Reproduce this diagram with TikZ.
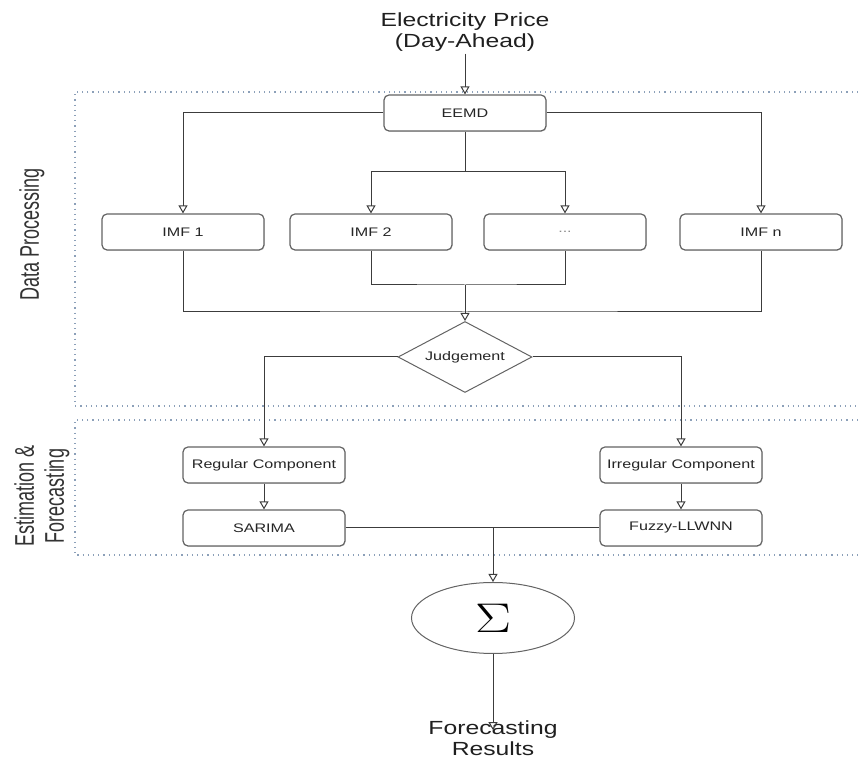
\documentclass[tikz,border=0pt]{standalone}
\usepackage{amsmath}
\usepackage{fontspec}
\setmainfont{Liberation Sans}
\newfontfamily\wide[FakeStretch=1.3]{Liberation Sans}
\usepackage{tikz}
\usetikzlibrary{arrows.meta,shapes.geometric,shadows}

\definecolor{edgegray}{RGB}{60,60,60}
\definecolor{regionblue}{RGB}{140,160,185}

\tikzset{
  block/.style={draw=edgegray!80, rounded corners=2.5pt, line width=0.6pt,
    minimum width=81pt, minimum height=18pt, inner sep=1pt,
    fill=white, font=\wide\fontsize{6.2}{8}\selectfont, text=black!85,
    drop shadow={opacity=0.2, shadow xshift=0.4pt, shadow yshift=-0.4pt}},
  decide/.style={draw=edgegray!80, diamond, aspect=1.9, inner sep=0pt,
    minimum width=67pt, minimum height=35.5pt, line width=0.5pt,
    font=\wide\fontsize{6.2}{8}\selectfont, text=black!85},
  sumnode/.style={draw=edgegray!80, ellipse, minimum width=81.5pt,
    minimum height=35.5pt, line width=0.5pt, inner sep=0pt},
  bigtext/.style={align=center, font=\wide\fontsize{9.5}{10.5}\selectfont, text=black!88},
  sidetext/.style={align=center, rotate=90, font=\fontsize{9}{15}\selectfont, text=black!80},
  region/.style={draw=regionblue, dotted, line width=0.6pt},
  link/.style={draw=edgegray, line width=0.5pt},
  arr/.style={link, -{Triangle[open,length=4pt,width=4.5pt]}}
}

\begin{document}
\begin{tikzpicture}[x=0.5pt, y=-0.5pt]
  \useasboundingbox (0,0) rectangle (858,758);

  % regions
  \draw[region] (858,92) -- (75,92) -- (75,406) -- (858,406);
  \draw[region] (858,420) -- (75,420) -- (75,555) -- (858,555);
  \node[sidetext] (dplabel) at (32,234) {\scalebox{1}[1.5]{Data Processing}};
  \node[sidetext] (eflabel) at (42,496) {\scalebox{1}[1.5]{Estimation \&}\\\scalebox{1}[1.5]{Forecasting}};

  % nodes
  \node[bigtext, inner sep=1pt] (price) at (465,32) {Electricity Price\\(Day-Ahead)};
  \node[block] (eemd) at (465,113) {EEMD};
  \node[block] (imf1) at (183,232) {IMF 1};
  \node[block] (imf2) at (371,232) {IMF 2};
  \node[block] (imfd) at (565,232) {\textcolor{black!45}{...}};
  \node[block] (imfn) at (761,232) {IMF n};
  \node[decide] (judge) at (465,357) {Judgement};
  \node[block] (regular) at (264,465) {Regular Component};
  \node[block] (irregular) at (681,465) {Irregular Component};
  \node[block] (sarima) at (264,528) {SARIMA};
  \node[block] (fuzzy) at (681,528) {Fuzzy-LLWNN};
  \node[sumnode] (sum) at (493,618) {\scalebox{1.3}[1]{\fontsize{21}{22}\selectfont$\Sigma$}};
  \node[bigtext, inner sep=0pt] (result) at (493,738) {Forecasting\\Results};

  \coordinate (split) at (465,172);
  \coordinate (join1) at (465,285);
  \coordinate (join2) at (465,312);
  \coordinate (merge) at (493,528);

  % connectors
  \draw[arr] (price.south) -- (eemd.north);
  \draw[arr] (eemd.west) -| (imf1.north);
  \draw[arr] (eemd.east) -| (imfn.north);
  \draw[link] (eemd.south) -- (split);
  \draw[arr] (split) -| (imf2.north);
  \draw[arr] (split) -| (imfd.north);
  \draw[link] (imf2.south) |- (join1) -| (imfd.south);
  \draw[link] (imf1.south) |- (join2) -| (imfn.south);
  \draw[arr] (join1) -- (judge.north);
  \draw[arr] (judge.west) -| (regular.north);
  \draw[arr] (judge.east) -| (irregular.north);
  \draw[arr] (regular) -- (sarima);
  \draw[arr] (irregular) -- (fuzzy);
  \draw[link] (sarima) -- (fuzzy);
  \draw[arr] (merge) -- (sum.north);
  \draw[arr] (sum.south) -- ([yshift=-5pt]result.north);
\end{tikzpicture}
\end{document}
